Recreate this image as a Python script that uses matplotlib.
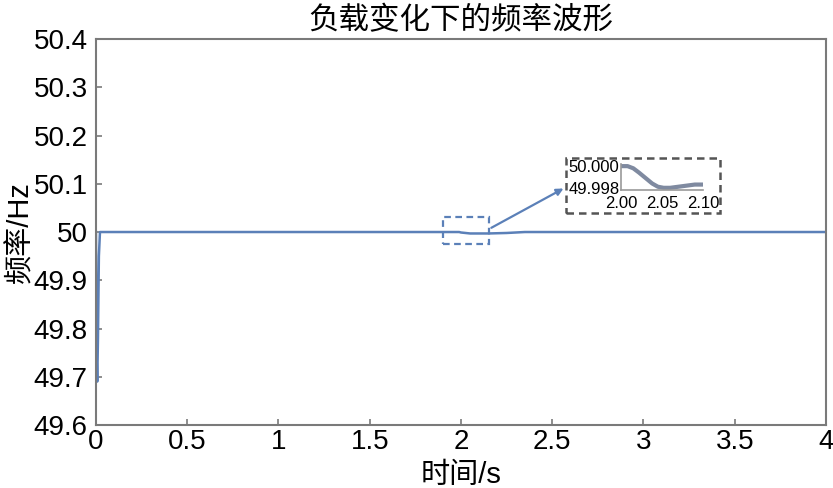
import matplotlib
matplotlib.use('Agg')
import matplotlib.pyplot as plt
from matplotlib.patches import Rectangle

plt.rcParams['font.family'] = ['Liberation Sans', 'Noto Sans CJK SC']

# main waveform
t = [0.0, 0.003, 0.007, 0.011, 0.016, 0.022, 1.99, 2.0, 2.05, 2.15, 2.25, 2.35, 4.0]
f = [50.0, 49.75, 49.69, 49.78, 49.95, 50.0, 50.0, 49.999, 49.997, 49.997, 49.998, 50.0, 50.0]

# zoomed detail around t = 2 s
t_in = [2.000, 2.008, 2.015, 2.022, 2.030, 2.038, 2.045, 2.052, 2.060, 2.070, 2.080, 2.090, 2.100]
f_in = [50.0, 50.0, 49.9998, 49.9994, 49.9989, 49.9984, 49.9981, 49.9980, 49.9980, 49.9981, 49.9982, 49.9983, 49.9983]

xticks = [0, 0.5, 1, 1.5, 2, 2.5, 3, 3.5, 4]
xlabels = ['0', '0.5', '1', '1.5', '2', '2.5', '3', '3.5', '4']
yticks = [49.6, 49.7, 49.8, 49.9, 50.0, 50.1, 50.2, 50.3, 50.4]
ylabels = ['49.6', '49.7', '49.8', '49.9', '50', '50.1', '50.2', '50.3', '50.4']

line_c = '#5b80b8'
spine_c = '#7a7a7a'

fig = plt.figure(figsize=(8.33, 4.88), dpi=100)
ax = fig.add_axes([0.1152, 0.1291, 0.8764, 0.7909])
ax.plot(t, f, color=line_c, lw=1.8)
ax.set_xlim(0, 4)
ax.set_ylim(49.6, 50.4)
ax.set_xticks(xticks)
ax.set_xticklabels(xlabels)
ax.set_yticks(yticks)
ax.set_yticklabels(ylabels)
ax.tick_params(direction='in', length=4, width=1.2, color=spine_c, labelsize=20)
ax.tick_params(axis='y', pad=6)
ax.tick_params(axis='x', pad=3)
for s in ax.spines.values():
    s.set_color(spine_c)
    s.set_linewidth(1.5)

ax.set_title('负载变化下的频率波形', fontsize=22, pad=7)
ax.set_xlabel('时间/s', fontsize=21, labelpad=4)
ax.set_ylabel('频率/Hz', fontsize=21, labelpad=-1)

# dashed box around the step
ax.add_patch(Rectangle((1.9, 49.975), 0.253, 0.056, fill=False, ls=(0, (3, 2)),
                       ec=line_c, lw=1.6))
# arrow to the inset
ax.annotate('', xy=(2.575, 50.093), xytext=(2.153, 50.006),
            arrowprops=dict(arrowstyle='-|>', color=line_c, lw=1.6, mutation_scale=10),
            annotation_clip=False)
# dashed frame of the inset
ax.add_patch(Rectangle((2.575, 50.039), 0.844, 0.114, fill=False, ls=(0, (3, 2)),
                       ec='#555555', lw=1.8, clip_on=False))

ins = fig.add_axes([0.7455, 0.6107, 0.0984, 0.0533])
ins.plot(t_in, f_in, color='#7f8aa0', lw=3)
ins.set_xlim(2.0, 2.1)
ins.set_ylim(49.9978, 50.0002)
ins.set_xticks([2.0, 2.05, 2.1])
ins.set_xticklabels(['2.00', '2.05', '2.10'])
ins.set_yticks([49.998, 50.0])
ins.set_yticklabels(['49.998', '50.000'])
ins.tick_params(length=0, labelsize=12)
ins.tick_params(axis='y', pad=1)
ins.tick_params(axis='x', pad=4)
ins.spines['top'].set_visible(False)
ins.spines['right'].set_visible(False)
for s in ['left', 'bottom']:
    ins.spines[s].set_color('#999999')
    ins.spines[s].set_linewidth(1.2)
ins.patch.set_alpha(0)

fig.savefig('out.png', dpi=100)
